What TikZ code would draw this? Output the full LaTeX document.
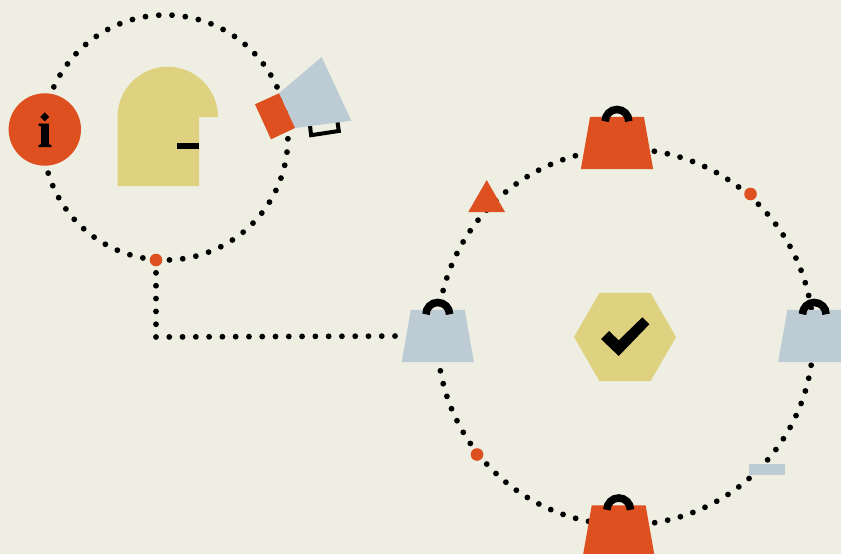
\documentclass[tikz,border=0pt]{standalone}
\usepackage{fontspec}
\usetikzlibrary{backgrounds,calc,shapes.geometric}
\newfontfamily\infofont[FakeBold=1.5]{Liberation Serif Bold}
\definecolor{paper}{RGB}{238,239,226}
\definecolor{rust}{RGB}{222,80,32}
\definecolor{straw}{RGB}{222,209,127}
\definecolor{mist}{RGB}{189,203,213}
\tikzset{
bagnode/.style={draw=none,trapezium,trapezium angle=78.2,trapezium stretches=true,minimum width=72.3,minimum height=52.3,inner sep=0,outer sep=0},
rustdot/.style={circle,fill=rust,minimum size=12.6,inner sep=0,outer sep=0},
dotline/.style={line width=5.8,line cap=round},
bagstrap/.style={line width=7.6}
}
\begin{document}
\begin{tikzpicture}[x=1pt,y=-1pt]
\useasboundingbox(0,0)rectangle(841,554);
\coordinate(ringa)at(165.4,137.5);\coordinate(ringb)at(625.3,337);\coordinate(bend)at(156,337);
\node[rustdot](dota)at(156,260){};\node[rustdot](dotb)at(750.5,194){};\node[rustdot](dotc)at(477,454.5){};
\node[bagnode,fill=rust](bagt)at(617,143){\phantom{x}};\node[bagnode,fill=mist](bagl)at(437.8,336){\phantom{x}};\node[bagnode,fill=mist](bagr)at(814.3,336){\phantom{x}};\node[bagnode,fill=rust](bagb)at(618.7,531.5){\phantom{x}};
\foreach \n in {bagt,bagl,bagr,bagb}\draw[bagstrap]($(\n.center)+(-11.8,-21.7)$)arc[start angle=180,end angle=360,radius=11.8];
\begin{scope}[on background layer]
\fill[paper](0,0)rectangle(841,554);
\foreach \k in {0,...,40}\fill(ringa)++(-86.9+6.25*\k:122.5)circle(2.9);
\foreach \k in {0,...,10}\fill(ringa)++(-93.1-6.25*\k:122.5)circle(2.9);
\foreach \k in {0,...,18}{\fill(ringb)++(-81.1+4.02*\k:188)circle(2.9);\fill(ringb)++(81-4.02*\k:188)circle(2.9);}
\foreach \k in {0,...,17}\fill(ringb)++(101.3+4.02*\k:188)circle(2.9);
\foreach \k in {0,...,15}\fill(ringb)++(254.6-4.02*\k:188)circle(2.9);
\draw[dotline,dash pattern=on 0pt off 12.85pt](dota.center)--(bend);
\draw[dotline,dash pattern=on 0pt off 13.28pt](bend)--(bagl.west);
\end{scope}
% left ring
\node[circle,fill=rust,minimum size=72.4,inner sep=0](info)at(44.8,129.5){\fontsize{50}{50}\infofont i};
\fill[rust]($(info)+(-8,-20)$)rectangle($(info)+(8,-7.2)$);
\fill($(info)+(0,-17.2)$)--++(4.5,4.5)--++(-4.5,4.5)--++(-4.5,-4.5)--cycle;
\fill[straw](117.5,186)--(117.5,117)arc[start angle=180,end angle=360,radius=50.25]--(199,117)--(199,186)--cycle;
\fill(177,143)rectangle(199,149);
\draw[line width=4](309.8,124)--(311.1,135.2)--(338.8,131)--(337.2,120);
\fill[mist](279,93.3)--(321.7,57)--(351.3,120.7)--(295,128)--cycle;
\fill[rust](255,104.3)--(279,93.3)--(295,128)--(271,139.3)--cycle;
% right ring
\node[regular polygon,regular polygon sides=6,fill=straw,minimum size=102,inner sep=0,outer sep=0](hexa)at(625,337){};
\fill(601,339)--(609,331)--(618.7,340.3)--(642.3,317.3)--(649.3,324.3)--(618.7,356)--cycle;
\fill[rust](486.7,180)--(505,212)--(468.3,212)--cycle;
\fill[mist](749,464)rectangle(785,475);
\end{tikzpicture}
\end{document}
